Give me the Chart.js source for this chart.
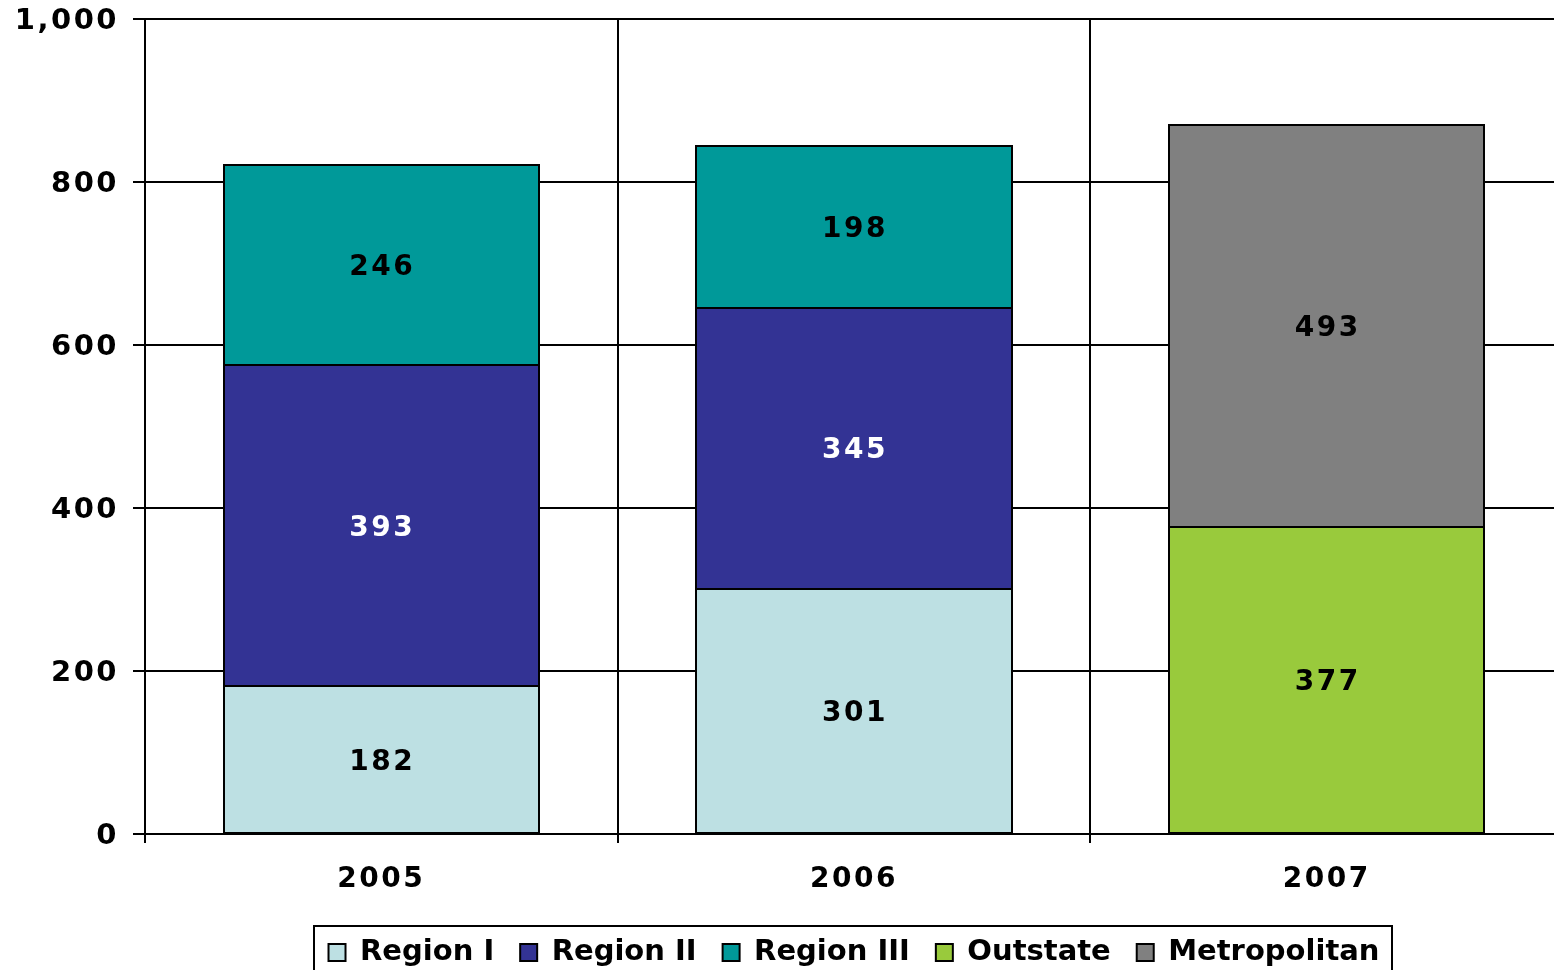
<!DOCTYPE html>
<html>
<head>
<meta charset="utf-8">
<script src="https://cdn.jsdelivr.net/npm/chart.js@4/dist/chart.umd.min.js"></script>
<style>
  html, body { margin: 0; padding: 0; overflow: hidden; background: #fff; width: 1554px; height: 970px; }
  canvas { display: block; }
</style>
</head>
<body>
<canvas id="c" width="1563" height="977"></canvas>
<script>
// Categories and series values
const years = ['2005', '2006', '2007'];
const regionI = [182, 301, null];
const regionII = [393, 345, null];
const regionIII = [246, 198, null];
const outstate = [null, null, 377];
const metropolitan = [null, null, 493];
// Value axis
const yMin = 0;
const yMax = 1000;
const yStep = 200;

const FONT = "'DejaVu Sans', Verdana, sans-serif";
const SPACING = '2.5px';

// Legend is laid out and drawn with normal spacing; numbers (tick labels,
// drawn after the datasets, and segment values) use a wider letter spacing.
const spacingPlugin = {
  id: 'spacing',
  beforeUpdate(chart) { chart.ctx.letterSpacing = '0px'; },
  beforeDraw(chart) { chart.ctx.letterSpacing = '0px'; },
  beforeDatasetsDraw(chart) { chart.ctx.letterSpacing = SPACING; },
  afterDraw(chart) { chart.ctx.letterSpacing = '0px'; }
};

// Crisp black outline around every bar segment
const barOutlines = {
  id: 'barOutlines',
  afterDatasetsDraw(chart) {
    const ctx = chart.ctx;
    ctx.save();
    ctx.strokeStyle = '#000';
    ctx.lineWidth = 2;
    chart.data.datasets.forEach((ds, i) => {
      const meta = chart.getDatasetMeta(i);
      meta.data.forEach((bar, j) => {
        if (ds.data[j] == null) return;
        const { x, y, base, width } = bar.getProps(['x', 'y', 'base', 'width'], true);
        const l = Math.round(x - width / 2), r = Math.round(x + width / 2);
        const t = Math.round(Math.min(y, base)), b = Math.round(Math.max(y, base));
        ctx.strokeRect(l, t, r - l, b - t);
      });
    });
    ctx.restore();
  }
};

// Segment values written in the middle of each stacked piece
const valueLabels = {
  id: 'valueLabels',
  afterDatasetsDraw(chart) {
    const ctx = chart.ctx;
    ctx.save();
    ctx.letterSpacing = SPACING;
    ctx.font = `bold 28px ${FONT}`;
    ctx.textAlign = 'center';
    ctx.textBaseline = 'middle';
    chart.data.datasets.forEach((ds, i) => {
      const meta = chart.getDatasetMeta(i);
      meta.data.forEach((bar, j) => {
        const v = ds.data[j];
        if (v == null) return;
        ctx.fillStyle = ds.labelColor;
        ctx.fillText(String(v), bar.x + 1, (bar.y + bar.base) / 2 + 3);
      });
    });
    ctx.restore();
  }
};

// Frame around the legend row
const legendFrame = {
  id: 'legendFrame',
  afterDraw(chart) {
    const hb = chart.legend && chart.legend.legendHitBoxes;
    if (!hb || !hb.length) return;
    const last = hb[hb.length - 1];
    const l = Math.round(hb[0].left - 15);
    const r = Math.round(last.left + last.width + 13);
    const t = Math.round(hb[0].top - 12);
    const ctx = chart.ctx;
    ctx.save();
    ctx.strokeStyle = '#000';
    ctx.lineWidth = 2;
    ctx.strokeRect(l, t, r - l, chart.height - t + 20);
    ctx.restore();
  }
};

const ds = (label, data, color, labelColor) => ({
  label, data,
  backgroundColor: color,
  borderColor: '#000',
  borderWidth: 0,
  inflateAmount: 0,
  labelColor,
  stack: 's'
});

new Chart(document.getElementById('c'), {
  type: 'bar',
  data: {
    labels: years,
    datasets: [
      ds('Region I', regionI, '#BDE0E3', '#000'),
      ds('Region II', regionII, '#333394', '#fff'),
      ds('Region III', regionIII, '#009999', '#000'),
      ds('Outstate', outstate, '#99CA3C', '#000'),
      ds('Metropolitan', metropolitan, '#808080', '#000')
    ]
  },
  options: {
    responsive: false,
    animation: false,
    events: [],
    layout: { padding: { top: 19, left: 0, right: 0, bottom: 0 } },
    datasets: { bar: { categoryPercentage: 1, barPercentage: 0.667 } },
    plugins: {
      tooltip: { enabled: false },
      legend: {
        position: 'bottom',
        fullSize: false,
        labels: {
          color: '#000',
          font: { family: FONT, size: 29, weight: 'bold' },
          boxWidth: 17,
          boxHeight: 17,
          padding: 26,
          generateLabels(chart) {
            return Chart.defaults.plugins.legend.labels.generateLabels(chart)
              .map(item => Object.assign(item, { lineWidth: 2, strokeStyle: '#000' }));
          }
        }
      }
    },
    scales: {
      x: {
        stacked: true,
        grid: { display: true, offset: true, color: '#000', lineWidth: 2, tickLength: 9, drawTicks: true },
        border: { display: true, color: '#000', width: 2 },
        ticks: { z: 1, color: '#000', font: { family: FONT, size: 28, weight: 'bold' }, padding: 20, maxRotation: 0 },
        afterFit(s) { s.height = 78; s.paddingLeft = 0; s.paddingRight = 0; }
      },
      y: {
        stacked: true,
        min: yMin,
        max: yMax,
        ticks: {
          z: 1,
          stepSize: yStep,
          color: '#000',
          font: { family: FONT, size: 29, weight: 'bold' },
          padding: 14,
          labelOffset: 2,
          callback: v => Number(v).toLocaleString('en-US')
        },
        grid: { color: '#000', lineWidth: 2, tickLength: 12, drawTicks: true },
        border: { display: true, color: '#000', width: 2 },
        afterFit(s) { s.width = 145; s.paddingTop = 0; s.paddingBottom = 0; }
      }
    }
  },
  plugins: [spacingPlugin, barOutlines, valueLabels, legendFrame]
});
</script>
</body>
</html>
